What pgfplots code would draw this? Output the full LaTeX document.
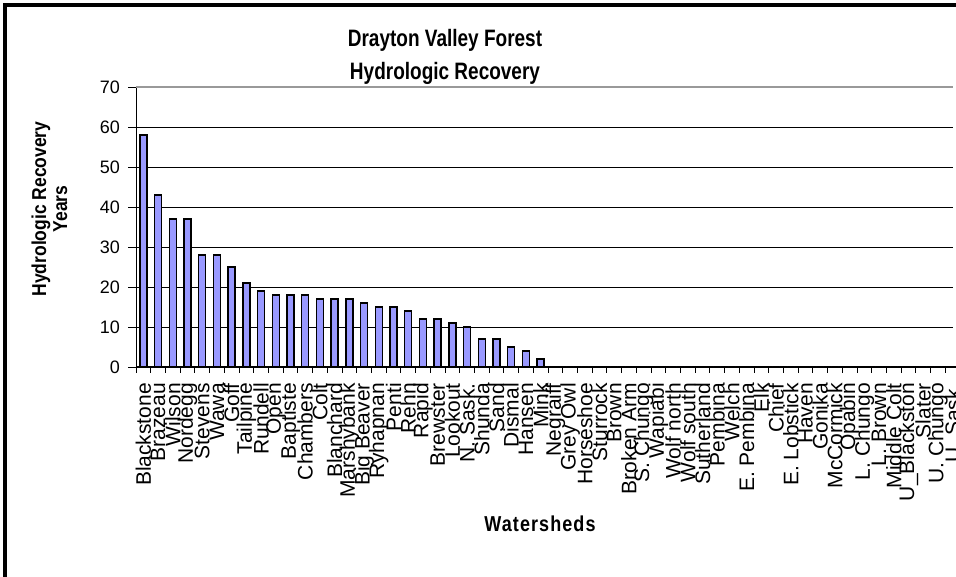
\documentclass[border=0pt]{standalone}
\usepackage{pgfplots}
\pgfplotsset{compat=1.18}
\usepackage{fontspec}
\setmainfont{Liberation Sans}
\definecolor{barblue}{HTML}{9999FF}
\begin{document}
\begin{tikzpicture}
\useasboundingbox (0,0) rectangle (956bp,577bp);
\clip (0,0) rectangle (956bp,577bp);
\fill[white] (0,0) rectangle (956bp,577bp);
\begin{axis}[
  at={(136bp,210bp)}, anchor=south west,
  scale only axis, width=824bp, height=280bp,
  xmin=-0.5, xmax=55.5, ymin=0, ymax=70,
  axis lines*=left,
  axis line style={black, line width=1bp},
  ytick={0,10,...,60},
  extra y ticks={70},
  extra y tick style={major grid style={gray!80, line width=1.3bp}},
  ymajorgrids,
  major grid style={black, line width=0.9bp},
  tick align=outside,
  major tick length=8bp,
  minor tick length=6bp,
  major x tick style={draw=none},
  tick style={black, line width=0.8bp},
  xtick={0,...,55},
  minor xtick={-0.5,0.5,...,55.5},
  xticklabels={Blackstone,Brazeau,Wilson,Nordegg,Stevens,Wawa,Goff,Tailpine,Rundell,Open,Baptiste,Chambers,Colt,Blanchard,Marshybank,Big Beaver,Ryhapnan,Penti,Rehn,Rapid,Brewster,Lookout,N. Sask.,Shunda,Sand,Dismal,Hansen,Mink,Negraiff,Grey Owl,Horseshoe,Sturrock,Brown,Broken Arm,S. Chungo,Wapiabi,Wolf north,Wolf south,Sutherland,Pembina,Welch,E. Pembina,Elk,Chief,E. Lobstick,Haven,Gonika,McCormick,Opabin,L. Chungo,L. Brown,Middle Colt,U\_Blackston,Slater,U. Chungo,U. Sask.},
  xticklabel style={rotate=90, anchor=east, font=\fontsize{21bp}{21bp}\selectfont, inner sep=0pt, xshift=-8bp},
  yticklabel style={font=\fontsize{18bp}{18bp}\selectfont, inner sep=0pt, xshift=-8bp},
  /pgf/number format/assume math mode=true,
  clip=false,
]
\addplot[ybar, bar width=7bp, fill=barblue, draw=black, line width=1.3bp] coordinates {
(0,58) (1,43) (2,37) (3,37) (4,28) (5,28) (6,25) (7,21) (8,19) (9,18)
(10,18) (11,18) (12,17) (13,17) (14,17) (15,16) (16,15) (17,15) (18,14) (19,12)
(20,12) (21,11) (22,10) (23,7) (24,7) (25,5) (26,4) (27,2) (28,0) (29,0)
(30,0) (31,0) (32,0) (33,0) (34,0) (35,0) (36,0) (37,0) (38,0) (39,0)
(40,0) (41,0) (42,0) (43,0) (44,0) (45,0) (46,0) (47,0) (48,0) (49,0)
(50,0) (51,0) (52,0) (53,0) (54,0) (55,0)
};
\end{axis}
\fill[white] (953bp,215bp) rectangle (956bp,569bp);
\draw[line width=4bp] (5bp,0bp) -- (5bp,572bp) -- (956bp,572bp);
\node[anchor=base, font=\bfseries\fontsize{19bp}{19bp}\selectfont] at (445bp,530bp) {\scalebox{1}[1.25]{Drayton Valley Forest}};
\node[anchor=base, font=\bfseries\fontsize{19bp}{19bp}\selectfont] at (445bp,497bp) {\scalebox{1}[1.25]{Hydrologic Recovery}};
\node[anchor=base, rotate=90, font=\bfseries\fontsize{17.5bp}{17.5bp}\selectfont] at (46bp,368bp) {\scalebox{1}[1.15]{Hydrologic Recovery}};
\node[anchor=base, rotate=90, font=\bfseries\fontsize{17.5bp}{17.5bp}\selectfont] at (67bp,368bp) {\scalebox{1}[1.15]{Years}};
\node[anchor=base, font=\bfseries\fontsize{18bp}{18bp}\selectfont\addfontfeature{LetterSpace=6}] at (540bp,45bp) {\scalebox{1}[1.2]{Watersheds}};
\end{tikzpicture}
\end{document}
